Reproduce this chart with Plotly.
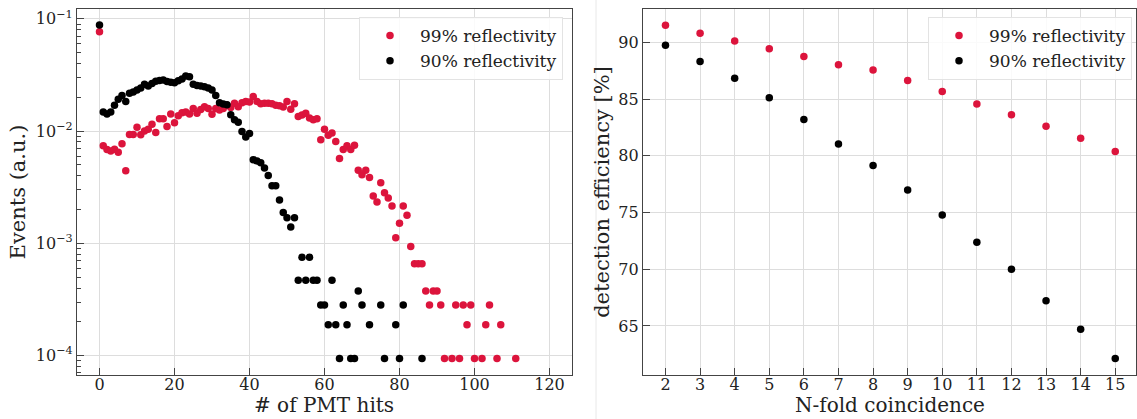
import plotly.graph_objects as go

# ---------------- data: left panel (PMT hit distribution) ----------------
hits_99 = [0, 1, 2, 3, 4, 5, 6, 7, 8, 9, 10, 11, 12, 13, 14, 15, 16, 17, 18, 19,
           20, 21, 22, 23, 24, 25, 26, 27, 28, 29, 30, 31, 32, 33, 34, 35, 36, 37, 38, 39,
           40, 41, 42, 43, 44, 45, 46, 47, 48, 49, 50, 51, 52, 53, 54, 55, 56, 57, 58, 59,
           60, 61, 62, 63, 64, 65, 66, 67, 68, 69, 70, 71, 72, 73, 74, 75, 76, 77, 78, 79,
           80, 81, 82, 83, 84, 85, 86, 87, 88, 89, 90, 91, 92, 94, 95, 96, 97, 98, 99, 100,
           102, 103, 104, 106, 107, 111]
events_99 = [0.0767, 0.00742, 0.00684, 0.00666, 0.0069, 0.00648, 0.00773, 0.00443, 0.00934, 0.00934,
             0.0108, 0.0093, 0.0100, 0.0104, 0.0115, 0.0097, 0.0129, 0.0129, 0.0110, 0.0142,
             0.0119, 0.0137, 0.0146, 0.0148, 0.0142, 0.0159, 0.0144, 0.0156, 0.0165, 0.0159,
             0.0141, 0.0159, 0.0154, 0.0159, 0.0170, 0.0162, 0.0177, 0.0165, 0.0179, 0.0184,
             0.0182, 0.0203, 0.0184, 0.0175, 0.0177, 0.0177, 0.0175, 0.0170, 0.0168, 0.0164,
             0.0184, 0.0157, 0.0175, 0.0135, 0.0139, 0.0144, 0.0131, 0.0126, 0.0129, 0.00838,
             0.0104, 0.0092, 0.0096, 0.0081, 0.00569, 0.00684, 0.00742, 0.00684, 0.0075, 0.00449,
             0.00408, 0.00449, 0.00387, 0.00264, 0.00234, 0.00347, 0.00282, 0.00253, 0.00215, 0.00112,
             0.00151, 0.00215, 0.00178, 0.000935, 0.000658, 0.000658, 0.000658, 0.000376, 0.000282, 0.000376,
             0.000376, 0.000282, 0.000094, 0.000094, 0.000282, 0.000094, 0.000282, 0.000188, 0.000282, 0.000094,
             0.000094, 0.000188, 0.000282, 0.000094, 0.000188, 0.000094]

hits_90 = [0, 1, 2, 3, 4, 5, 6, 7, 8, 9, 10, 11, 12, 13, 14, 15, 16, 17, 18, 19,
           20, 21, 22, 23, 24, 25, 26, 27, 28, 29, 30, 31, 32, 33, 34, 35, 36, 37, 38, 39,
           40, 41, 42, 43, 44, 45, 46, 47, 48, 49, 50, 51, 52, 53, 54, 55, 56, 57, 58, 59,
           60, 61, 62, 63, 64, 65, 66, 67, 68, 69, 70, 72, 75, 76, 79, 80, 81, 86]
events_90 = [0.088, 0.0148, 0.0142, 0.0148, 0.0170, 0.0192, 0.0208, 0.0184, 0.0217, 0.0223,
             0.0232, 0.0242, 0.0262, 0.0252, 0.0265, 0.0278, 0.0283, 0.0286, 0.0277, 0.0273,
             0.0270, 0.0281, 0.0292, 0.0309, 0.0305, 0.0262, 0.0255, 0.0252, 0.0249, 0.0242,
             0.0232, 0.0208, 0.0179, 0.0174, 0.0172, 0.0140, 0.0126, 0.0120, 0.0099, 0.00885,
             0.0095, 0.00557, 0.00543, 0.00522, 0.00468, 0.00403, 0.00326, 0.00326, 0.00243, 0.00188,
             0.00169, 0.00140, 0.00169, 0.00047, 0.00075, 0.00047, 0.00075, 0.00047, 0.00047, 0.000282,
             0.000282, 0.000188, 0.00047, 0.000188, 0.000094, 0.000282, 0.000188, 0.000094, 0.000094, 0.000376,
             0.000282, 0.000188, 0.000282, 0.000094, 0.000188, 0.000094, 0.000282, 0.000094]

# ---------------- data: right panel (detection efficiency) ----------------
nfold = [2, 3, 4, 5, 6, 7, 8, 9, 10, 11, 12, 13, 14, 15]
eff_99 = [91.49, 90.79, 90.12, 89.42, 88.75, 88.02, 87.55, 86.62, 85.65, 84.57, 83.61, 82.59, 81.54, 80.37]
eff_90 = [89.74, 88.31, 86.82, 85.10, 83.20, 81.04, 79.15, 76.99, 74.77, 72.38, 69.99, 67.22, 64.71, 62.14]

labels = ["99% reflectivity", "90% reflectivity"]
colors = ["#dc143c", "#000000"]

log_ticks = [1e-4, 1e-3, 1e-2, 1e-1]
log_ticktext = ["10<sup>\u22124</sup>", "10<sup>\u22123</sup>", "10<sup>\u22122</sup>", "10<sup>\u22121</sup>"]
x_left_ticks = [0, 20, 40, 60, 80, 100, 120]
y_right_ticks = [65, 70, 75, 80, 85, 90]

W, H = 1137, 419
ML, MR, MT, MB = 0, 0, 9, 44
PW, PH = W - ML - MR, H - MT - MB

FONT = "DejaVu Serif"
AXC = "#444444"
GRID = "#dddddd"
TXT = "#222222"

fig = go.Figure()

fig.add_trace(go.Scatter(x=hits_99, y=events_99, mode="markers", name=labels[0],
                         marker=dict(color=colors[0], size=7.5), xaxis="x", yaxis="y", legend="legend"))
fig.add_trace(go.Scatter(x=hits_90, y=events_90, mode="markers", name=labels[1],
                         marker=dict(color=colors[1], size=7.5), xaxis="x", yaxis="y", legend="legend"))
fig.add_trace(go.Scatter(x=nfold, y=eff_99, mode="markers", name=labels[0],
                         marker=dict(color=colors[0], size=7.5), xaxis="x2", yaxis="y2", legend="legend2"))
fig.add_trace(go.Scatter(x=nfold, y=eff_90, mode="markers", name=labels[1],
                         marker=dict(color=colors[1], size=7.5), xaxis="x2", yaxis="y2", legend="legend2"))

common_axis = dict(showline=True, linecolor=AXC, linewidth=1.3, mirror=True,
                   ticks="inside", ticklen=7, tickwidth=1.2, tickcolor=AXC,
                   showgrid=True, gridcolor=GRID, gridwidth=1, zeroline=False,
                   tickfont=dict(family=FONT, size=16, color=TXT))

xl_dom = [77 / PW, 572 / PW]
xr_dom = [643 / PW, 1136 / PW]

legend_style = dict(xanchor="right", yanchor="top",
                    bgcolor="rgba(255,255,255,0.85)", bordercolor="#e3e3e3", borderwidth=1,
                    font=dict(family=FONT, size=17, color=TXT), itemwidth=50,
                    tracegroupgap=0)

fig.update_layout(
    width=W, height=H,
    margin=dict(l=ML, r=MR, t=MT, b=MB),
    paper_bgcolor="white", plot_bgcolor="white",
    font=dict(family=FONT, color=TXT),
    xaxis=dict(domain=xl_dom, range=[-6, 126], tickmode="array",
               tickvals=x_left_ticks, anchor="y", ticklabelstandoff=-5, **common_axis),
    yaxis=dict(domain=[0, 1], type="log", range=[-4.173, -0.912], tickmode="array",
               tickvals=log_ticks, ticktext=log_ticktext, anchor="x",
               minor=dict(ticks="inside", ticklen=4, tickcolor=AXC, dtick="D1", showgrid=False),
               title=dict(text="Events (a.u.)", font=dict(family=FONT, size=21), standoff=4),
               **common_axis),
    xaxis2=dict(domain=xr_dom, range=[1.35, 15.6], tickmode="array",
                tickvals=nfold, anchor="y2", ticklabelstandoff=-5, **common_axis),
    yaxis2=dict(domain=[0, 1], range=[60.68, 92.93], tickmode="array",
                tickvals=y_right_ticks, anchor="x2",
                title=dict(text="detection efficiency [%]", font=dict(family=FONT, size=21), standoff=2),
                **common_axis),
    legend=dict(x=563 / PW, y=1 - 8 / PH, **legend_style),
    legend2=dict(x=1132 / PW, y=1 - 8 / PH, **legend_style),
    shapes=[dict(type="line", xref="paper", yref="paper", x0=596 / PW, x1=596 / PW,
                 y0=-MB / PH, y1=1 + MT / PH, line=dict(color="#e8e8e8", width=1))],
    annotations=[
        dict(text="# of PMT hits", xref="paper", yref="paper",
             x=(xl_dom[0] + xl_dom[1]) / 2, y=-MB / PH, xanchor="center", yanchor="bottom",
             showarrow=False, font=dict(family=FONT, size=20, color=TXT)),
        dict(text="N-fold coincidence", xref="paper", yref="paper",
             x=(xr_dom[0] + xr_dom[1]) / 2, y=-MB / PH, xanchor="center", yanchor="bottom",
             showarrow=False, font=dict(family=FONT, size=20, color=TXT)),
    ],
)

fig.write_html("out.html")
